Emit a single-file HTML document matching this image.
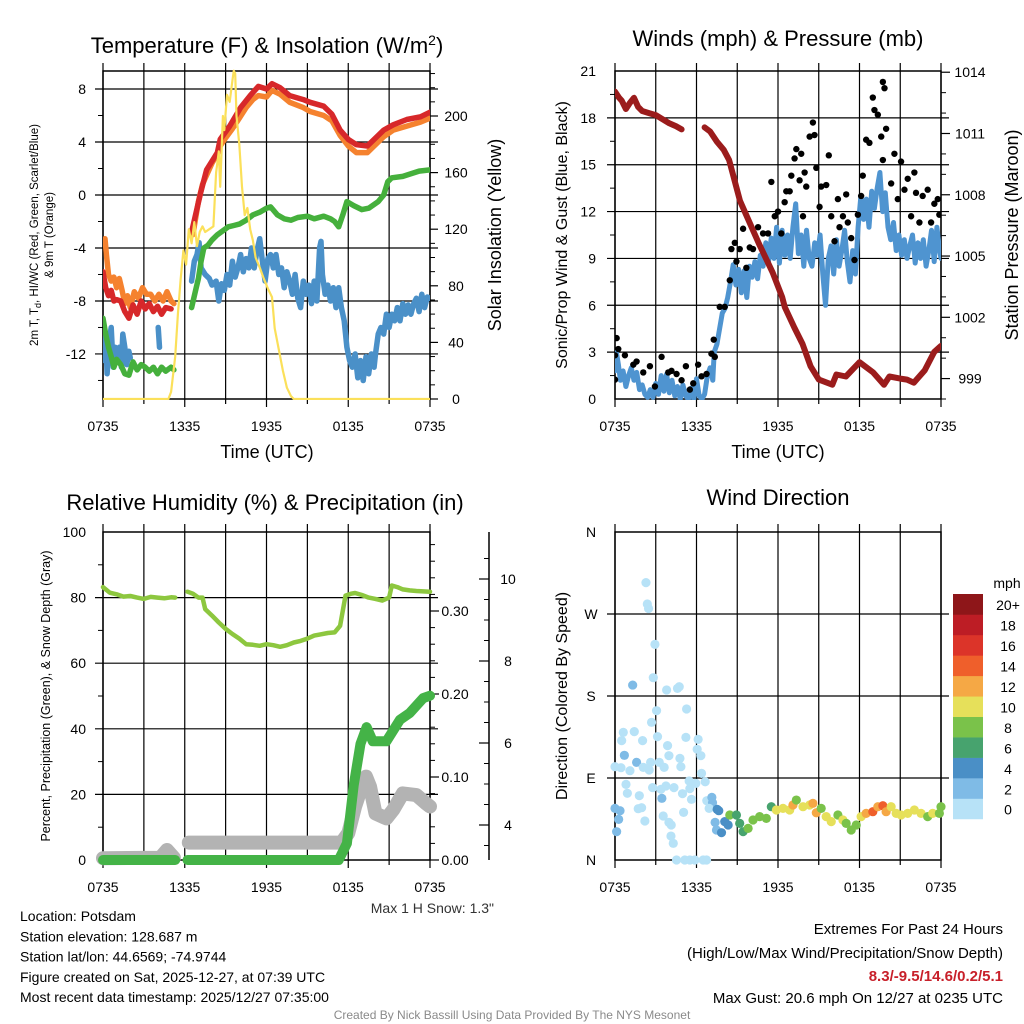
<!DOCTYPE html>
<html><head><meta charset="utf-8"><style>
html,body{margin:0;padding:0;background:#fff;}
svg{display:block;font-family:"Liberation Sans",sans-serif;}
</style></head><body>
<svg id="c" width="1024" height="1024" viewBox="0 0 1024 1024" xmlns="http://www.w3.org/2000/svg"></svg>
<script>
// ---------- Panel 1 data (hours since 0735 UTC) ----------
const tRedH=[0,0.2,0.4,0.6,0.8,1.0,1.3,1.6,1.9,2.2,2.5,2.8,3.1,3.4,3.7,4.0,4.3,4.6,5.0,5.2,6.5,7.15,7.6,8.4,8.6,9.3,10.1,10.8,11.4,12.0,12.4,13.0,13.7,14.7,15.2,16.2,16.8,17.4,18.0,18.6,19.4,20.1,20.6,21.3,22.3,23.3,24];
const tRedV=[-5.8,-7.0,-7.6,-7.2,-8.0,-7.9,-8.0,-8.8,-9.3,-8.3,-9.0,-8.0,-8.6,-8.2,-8.8,-8.4,-9.0,-8.5,-8.6,null,-2.8,0.1,1.9,3.2,4.2,5.2,6.6,7.5,8.2,8.0,8.4,8.1,7.5,7.2,7.0,6.7,6.1,4.9,4.2,3.8,3.7,4.4,4.9,5.3,5.7,5.9,6.25];
const tOrH=[0,0.15,0.25,0.4,0.6,0.8,1.0,1.2,1.4,1.6,1.8,2.0,2.3,2.6,2.9,3.2,3.5,3.8,4.1,4.4,4.7,5.0,5.2,5.3,6.6,7.0,7.3,7.6,8.0,8.4,8.6,9.0,9.5,10.0,10.5,11.0,11.4,12.0,12.4,13.0,13.7,14.7,15.2,16.2,16.8,17.4,18.0,18.6,19.4,20.1,20.6,21.3,22.3,23.3,24];
const tOrV=[-3.6,-3.3,-4.5,-6.0,-6.5,-6.2,-7.0,-6.3,-7.2,-8.2,-7.6,-8.5,-7.3,-7.8,-7.0,-7.5,-7.5,-8.0,-7.5,-8.0,-7.3,-8.0,-8.2,null,-3.0,-0.5,0.8,1.5,2.4,3.1,3.7,4.3,5.0,5.8,6.6,7.2,7.5,7.4,7.9,7.6,7.0,6.6,6.3,6.0,5.6,4.5,3.7,3.2,3.2,3.9,4.4,4.9,5.2,5.5,5.8];
const tdH=[0,0.2,0.4,0.6,0.8,1.0,1.3,1.6,1.9,2.2,2.5,2.8,3.1,3.4,3.7,4.0,4.3,4.6,5.0,5.2,5.3,6.5,6.8,7.0,7.2,7.4,7.7,8.0,8.4,8.8,9.2,9.6,10.0,10.5,11.0,11.5,12.0,12.3,12.8,13.3,13.8,14.3,15.0,15.5,16.2,16.7,17.0,17.3,17.6,17.9,18.4,19.0,19.5,20.2,20.6,20.9,21.2,22.0,22.6,23.2,24];
const tdV=[-9.3,-10.5,-11.5,-12.2,-13.0,-12.4,-12.8,-13.5,-13.6,-12.6,-13.2,-12.8,-13.0,-13.3,-13.0,-13.5,-13.0,-13.3,-13.0,-13.2,null,-8.5,-7.2,-6.3,-5.0,-4.0,-3.8,-3.4,-3.0,-2.7,-2.4,-2.3,-2.2,-1.9,-1.5,-1.3,-1.0,-0.9,-1.5,-1.8,-1.9,-1.7,-1.6,-1.8,-1.6,-1.8,-2.0,-2.4,-1.5,-0.5,-0.8,-1.1,-1.0,-0.5,0.0,1.0,1.3,1.4,1.6,1.8,1.9];
const wcH=[0,0.1,0.2,0.3,0.45,0.6,0.75,0.9,1.05,1.2,1.35,1.45,1.6,1.75,1.9,2.0,2.05,4.05,4.15,4.2,6.5,6.7,6.9,7.05,7.2,7.5,7.8,8.0,8.3,8.5,8.7,8.9,9.1,9.3,9.5,9.7,9.9,10.1,10.3,10.5,10.7,10.9,11.1,11.3,11.5,11.7,11.9,12.1,12.3,12.5,12.7,12.9,13.1,13.3,13.5,13.7,13.9,14.1,14.3,14.5,14.7,14.9,15.1,15.3,15.5,15.7,15.9,16.0,16.1,16.3,16.5,16.7,16.9,17.1,17.3,17.5,17.7,17.9,18.1,18.3,18.5,18.7,18.9,19.1,19.3,19.5,19.7,19.9,20.0,20.2,20.4,20.6,20.8,21.0,21.2,21.4,21.6,21.8,22.0,22.2,22.4,22.6,22.8,23.0,23.2,23.4,23.6,23.8,24];
const wcV=[-10.0,-12.5,-10.5,-13.5,-11.0,-10.0,-13.0,-11.5,-12.5,-11.5,-13.0,-10.5,-11.5,-12.8,-11.8,-12.3,null,-10.0,-11.5,null,-6.5,-5.0,-4.5,-3.6,-5.5,-6.0,-6.3,-6.8,-6.5,-8.0,-6.7,-7.2,-6.0,-6.8,-5.0,-6.2,-5.5,-4.5,-5.8,-4.8,-5.5,-4.0,-5.5,-4.2,-3.3,-5.0,-6.5,-4.8,-4.5,-5.5,-4.5,-6.0,-5.5,-7.0,-5.8,-6.5,-7.5,-6.0,-7.8,-8.5,-6.5,-7.5,-6.8,-8.2,-6.5,-8.0,-4.0,-3.5,-6.0,-7.5,-6.8,-8.0,-7.0,-8.5,-7.0,-8.5,-9.5,-11.5,-12.5,-13.0,-12.0,-13.8,-12.5,-14.0,-12.2,-13.5,-12.0,-13.0,-12.0,-10.5,-10.0,-10.5,-9.0,-10.0,-9.0,-9.5,-8.5,-9.5,-8.2,-9.0,-8.3,-9.0,-8.2,-7.8,-8.8,-7.5,-8.5,-7.7,-7.8];
const solH=[0,4.8,5.0,5.3,5.5,5.7,5.9,6.1,6.3,6.5,6.7,6.9,7.1,7.3,7.5,7.8,8.1,8.3,8.5,8.6,8.8,8.9,9.1,9.3,9.5,9.6,9.7,9.8,10.0,10.2,10.4,10.6,10.8,11.0,11.2,11.5,11.8,12.1,12.4,12.6,12.9,13.2,13.5,13.8,14.0,24];
const solV=[0,0,5,30,60,85,105,95,120,110,125,108,118,122,118,120,122,160,175,150,200,190,215,210,225,232,230,200,180,150,130,135,120,112,100,93,85,78,72,50,35,20,8,2,0,0];
// ---------- Panel 2 data ----------
const windH=[0,0.1,0.25,0.4,0.6,0.8,1.0,1.2,1.4,1.6,1.8,2.0,2.2,2.4,2.6,2.8,3.0,3.2,3.4,3.6,3.8,4.0,4.2,4.4,4.6,4.8,5.0,5.2,5.4,5.6,5.8,6.0,6.2,6.4,6.6,6.8,7.0,7.2,7.3,7.5,7.7,7.9,8.1,8.3,8.5,8.7,8.9,9.1,9.3,9.5,9.7,9.9,10.1,10.3,10.5,10.7,10.9,11.1,11.3,11.5,11.7,11.9,12.1,12.3,12.5,12.7,12.9,13.1,13.3,13.5,13.7,13.9,14.1,14.3,14.5,14.7,14.9,15.1,15.3,15.5,15.7,15.9,16.1,16.3,16.5,16.7,16.9,17.1,17.3,17.5,17.7,17.9,18.1,18.3,18.5,18.7,18.9,19.1,19.3,19.5,19.7,19.9,20.1,20.3,20.5,20.7,20.9,21.1,21.3,21.5,21.7,21.9,22.1,22.3,22.5,22.7,22.9,23.1,23.3,23.5,23.7,23.9,24];
const windV=[1.8,3.0,2.2,1.2,1.8,0.8,1.5,2.0,1.2,1.7,0.6,0.9,0.3,0.1,0.6,0.1,1.0,0.3,1.5,0.5,1.6,0.4,1.2,0.2,0.8,0.0,0.9,0.2,0.0,0.7,0.0,1.3,0.2,0.0,0.3,1.5,2.0,1.2,3.0,3.5,4.5,5.5,5.8,6.5,7.5,8.6,7.3,8.3,6.8,8.2,6.5,8.5,7.8,8.8,7.7,9.2,8.5,10.0,8.8,10.3,9.0,11.0,8.7,10.8,9.2,10.5,9.0,11.0,12.5,9.3,10.5,8.5,10.8,9.0,8.5,10.0,9.2,10.5,8.0,6.0,9.0,9.8,8.0,10.2,8.5,9.5,10.8,8.8,7.5,9.5,8.0,11.0,13.0,11.5,12.8,11.0,13.3,12.2,13.5,14.5,12.0,13.2,11.0,10.2,11.3,9.5,10.5,9.2,10.2,9.0,9.8,10.5,8.7,10.0,9.0,10.2,8.5,9.5,10.8,8.8,11.0,9.5,9.0];
const gustH=[0,0.12,0,0.24,0.73,1.35,1.59,2.08,2.57,2.94,3.43,3.92,4.16,4.53,4.9,5.22,5.51,5.76,6.12,6.37,6.74,7.1,7.35,7.27,7.71,8.08,8.45,8.57,8.82,8.94,9.18,9.43,9.67,9.92,10.16,10.53,10.9,11.27,11.51,11.76,12,12.24,12.49,12.61,12.86,12.98,13.22,13.35,13.59,13.71,13.84,13.96,14.08,14.33,14.57,14.69,14.82,15.06,15.18,15.55,15.74,15.92,16.16,16.41,16.53,16.78,17.02,17.14,17.39,17.63,17.88,18.12,18.24,18.49,18.73,18.98,19.1,19.35,19.72,19.84,19.96,19.6,19.72,20.33,20.57,20.82,21.06,21.31,21.55,21.8,22.04,22.16,22.41,22.65,23.02,23.27,23.51,23.76,23.88];
const gustV=[1.24,3.9,2.8,3.2,2.8,2.2,2.4,1.7,2.1,0.8,2.7,1.7,1.8,1.6,1.2,2.1,0.6,1.0,2.2,1.45,1.6,2.9,2.7,3.8,5.9,5.9,7.6,9.6,10,8.8,9.6,10.9,8.4,9.7,9.6,11.0,10.6,10.6,13.9,11.7,12,10.6,12.6,13.3,13.3,14.3,15.4,16,14,15.7,11.7,14.5,13.6,16.8,17.7,16.9,14.8,12.3,13.6,13.7,15.6,11.7,10.1,12.8,11,11.7,13.1,11.3,10.3,8.9,11.8,13,14.3,16.6,16.4,19.3,18.5,18.2,20.3,19.9,17.3,16.8,15.3,13.8,15.7,12.8,15.2,13.4,14.1,11.7,14.5,13.2,11.3,13,13.4,11.3,12.5,12.8,11.8];
const presH=[0,0.3,0.5,0.8,1.1,1.4,1.7,2.0,2.5,3.0,3.5,4.0,4.5,4.9,5.0,6.6,7.0,7.5,8.0,8.4,9.2,9.6,10.6,11.6,12.3,12.5,13.2,13.8,14.4,15.0,16.0,16.3,17.0,18.0,19.0,19.8,20.2,21.0,21.5,22.0,22.8,23.5,24];
const presV=[1013.05,1012.75,1012.6,1012.2,1012.5,1012.75,1012.3,1012.1,1012.0,1011.9,1011.7,1011.5,1011.35,1011.2,null,1011.3,1011.1,1010.6,1010.2,1009.7,1007.7,1007.1,1005.6,1004.2,1003.0,1002.5,1001.5,1000.7,999.6,998.95,998.7,999.2,999.1,999.8,999.3,998.7,999.1,999.0,998.95,998.8,999.4,1000.3,1000.6];
// ---------- Panel 3 data ----------
const rhH=[0,0.5,1,1.5,2,2.5,3,3.5,4,4.5,5,5.3,5.4,6.2,6.6,7.0,7.3,7.5,8.0,8.5,9.0,9.5,10,10.5,11,11.5,12,12.5,13,13.5,14,14.5,15,15.5,16,16.5,17,17.4,17.8,18.2,18.5,19,19.5,20,20.5,21,21.2,21.6,22,22.5,23,23.5,24];
const rhV=[83.2,81.5,81,80.3,80.5,80,79.6,80.2,80,79.8,80.1,80,null,81.8,81.2,80,80,76.5,74.5,72.4,70.5,68.9,67.5,65.8,65.6,65.3,65.8,65.5,65,65.5,66.3,66.8,67.5,68.4,68.8,69.2,69.4,71.4,80.6,81.2,81.4,80.8,80,79.6,79.1,80,83.7,83.2,82.5,82.2,82,81.9,81.8];
const pcpH=[0,5.3,5.35,6.2,17.3,17.9,18.4,18.9,19.35,19.8,20.8,21.8,22.5,23.5,24];
const pcpV=[0,0,null,0,0,0.02,0.09,0.14,0.16,0.143,0.143,0.169,0.177,0.195,0.198];
const snowH=[0,4.2,4.7,5.2,5.3,6.3,17.5,18.0,18.5,19.0,19.3,19.6,20.0,20.8,21.3,22.0,23.0,23.7,24];
const snowV=[3.19,3.2,3.39,3.2,null,3.57,3.57,3.8,4.45,4.95,5.18,4.93,4.28,4.16,4.37,4.77,4.73,4.53,4.45];
// ---------- Panel 4 data ----------
const dirH=[2.28,2.38,2.47,2.94,2.82,1.30,3.80,4.60,4.73,5.27,3.06,2.69,0.61,1.42,0.49,2.03,3.13,5.22,6.12,3.87,6.05,6.32,3.97,4.78,0.69,1.59,2.62,3.26,0.0,0.44,1.10,2.08,2.52,3.62,4.85,6.37,5.46,5.95,6.64,0.81,3.75,2.77,4.34,3.38,5.51,0.91,1.79,4.97,5.63,6.76,7.13,7.18,3.45,0.0,0.37,1.96,1.71,6.93,7.52,7.64,5.05,3.55,0.27,2.20,3.97,4.14,7.37,8.08,8.33,0.12,7.47,7.84,4.12,4.29,4.53,5.14,5.51,5.88,6.49,6.74,
8.45,8.94,9.18,9.43,9.80,10.16,10.65,11.14,11.51,11.88,12.37,12.86,13.10,13.35,13.84,14.33,14.57,14.82,15.18,15.55,15.92,16.41,16.78,17.02,17.39,17.76,18.12,18.49,18.98,19.35,19.72,19.96,20.33,20.70,21.06,21.55,22.04,22.53,23.02,23.39,23.88,24.0];
const dirV=[304.4,281,276,236.7,200.1,192,186.6,188.4,190.2,165.7,163.9,151.1,140.1,140.9,131,131,135.4,134.6,132.4,125.5,121.5,114.5,114.5,111.6,114.9,107.2,107.2,107.2,102.4,101.3,98,101.7,98.8,101.7,102.4,95.1,86.7,84.1,85.9,83,81.2,79.4,79.4,77.6,78.3,73.2,70.6,72.8,66.6,65.1,68.8,62.9,67.7,56.7,54.1,57.4,56.3,56.7,55.6,54.1,52.3,48.3,44.6,42.8,41.3,38.4,41.3,42.1,38.4,31.1,32.9,30,26.3,18.3,0,0,0,0,0,0,
49.4,49.4,40.2,31.1,34.7,43.9,47.6,45.7,58.5,54.9,56.7,54.9,60.4,65.8,58.5,60.4,62.2,51.9,56.7,47.6,42.1,49.4,43.9,40.2,32.9,38.4,47.6,51.2,53,58.5,59.6,53,58.5,51.2,49.4,51.2,54.9,51.2,47.6,51.2,51.2,58.5];
const dirS=[1,1,1,1,1,3,1,1,1,1,1,1,1,1,1,1,1,1,1,1,1,1,1,1,3,3,1,1,1,1,1,1,1,1,1,1,1,1,1,1,1,1,1,1,1,1,1,1,1,1,3,3,3,3,3,1,1,1,4.5,4.5,1,1,3,1,1,1,3,4.5,4.5,3,3,4.5,1,1,1,1,1,1,1,1,
8.5,7,6,7.5,8,8,8,8.5,7,10.5,10,10.5,12.5,8.5,10.5,11,12.5,12.5,8.5,10.5,10.5,8.5,10.5,8.5,8.5,8.5,10.5,12.5,14.5,12.5,14.5,12.5,10.5,10.5,10.5,10.5,10.5,10.5,8.5,10.5,8.5,8.5];
const cbarLabels=["0","2","4","6","8","10","12","14","16","18","20+"];
const cbarColors=["#b7e2f7","#7fbbe6","#4a8fc6","#47a36e","#7ac24a","#e6e05a","#f5a845","#ef5f2b","#dc3429","#bd1d25","#8e1619"];

const NS="http://www.w3.org/2000/svg";
const svg=document.getElementById('c');
function el(tag,attrs,parent){const e=document.createElementNS(NS,tag);for(const k in attrs)e.setAttribute(k,attrs[k]);(parent||svg).appendChild(e);return e;}
function txt(s,x,y,size,anchor,parent,extra){const t=el('text',Object.assign({x:x,y:y,'font-size':size,'text-anchor':anchor||'middle',fill:'#000'},extra||{}),parent);t.textContent=s;return t;}
function lin(a,b,c,d){return (v)=>c+(v-a)*(d-c)/(b-a);}
function pathD(H,V,sx,sy){let d='',pen=false;for(let i=0;i<H.length;i++){if(V[i]===null){pen=false;continue;}d+=(pen?'L':'M')+sx(H[i]).toFixed(1)+','+sy(V[i]).toFixed(1);pen=true;}return d;}
function grid(g,x0,x1,y0,y1,ys){
  for(let k=0;k<=8;k++){const x=x0+(x1-x0)*k/8;el('line',{x1:x,y1:y0-8,x2:x,y2:y1+(k%2==0?8:5),stroke:'#000','stroke-width':1.2},g);}
  ys.forEach(y=>el('line',{x1:x0-8,y1:y,x2:x1+8,y2:y,stroke:'#000','stroke-width':1.2},g));
  el('rect',{x:x0,y:y0,width:x1-x0,height:y1-y0,fill:'none',stroke:'#000','stroke-width':1.5},g);
  ['0735','1335','1935','0135','0735'].forEach((s,k)=>txt(s,x0+(x1-x0)*k/4,y1+32,14,'middle',g));
}
function minorTicks(g,x,ys,dir){ys.forEach(y=>el('line',{x1:x,y1:y,x2:x+dir*5,y2:y,stroke:'#000','stroke-width':1},g));}

// ================= Panel 1 =================
(function(){
const g=el('g',{});
const x0=103,x1=430,y0=71,y1=399;
const sx=lin(0,24,x0,x1), sy=lin(-15.4,9.36,y1,y0), ss=lin(0,200,399,116);
const ys=[8,4,0,-4,-8,-12].map(sy);
const yMinor=[];for(let v=-14;v<=8;v+=2)if(v%4!==0)yMinor.push(sy(v));
grid(g,x0,x1,y0,y1,ys);minorTicks(g,x0,yMinor,-1);
const rmin=[];for(let v=0;v<=230;v+=10)if(v%40!==0)rmin.push(ss(v));minorTicks(g,x1,rmin,1);
[0,40,80,120,160,200].forEach(v=>{el('line',{x1:x1,y1:ss(v),x2:x1+8,y2:ss(v),stroke:'#000','stroke-width':1.2},g);const t=txt(String(v),456,ss(v)+5,14,'middle',g);});
[8,4,0,-4,-8,-12].forEach(v=>{const t=txt(String(v),86,sy(v)+5,14,'end',g);});
const clip=el('clipPath',{id:'cp1'},g);el('rect',{x:x0,y:y0-3,width:x1-x0,height:y1-y0+4},clip);
const lg=el('g',{'clip-path':'url(#cp1)'},g);
const s1=el('path',{d:pathD(wcH,wcV,sx,sy),fill:'none',stroke:'#4a90c8','stroke-width':5.5,'stroke-linejoin':'round','stroke-linecap':'round'},lg);

const s2=el('path',{d:pathD(tdH,tdV,sx,sy),fill:'none',stroke:'#45b03c','stroke-width':5.5,'stroke-linejoin':'round','stroke-linecap':'round'},lg);

const s3=el('path',{d:pathD(tOrH,tOrV,sx,sy),fill:'none',stroke:'#f5822f','stroke-width':5.5,'stroke-linejoin':'round','stroke-linecap':'round'},lg);

const s4=el('path',{d:pathD(tRedH,tRedV,sx,sy),fill:'none',stroke:'#d7282a','stroke-width':5.5,'stroke-linejoin':'round','stroke-linecap':'round'},lg);

const s5=el('path',{d:pathD(solH,solV,sx,ss),fill:'none',stroke:'#fbe05a','stroke-width':2.2,'stroke-linejoin':'round'},lg);

const tt=txt('',267,53,22,'middle',g);tt.innerHTML='Temperature (F) &amp; Insolation (W/m<tspan dy="-8" font-size="14">2</tspan><tspan dy="8">)</tspan>';

const xt=txt('Time (UTC)',267,458,18,'middle',g);
const yt=el('text',{transform:'translate(38,235) rotate(-90)','font-size':11.5,'text-anchor':'middle'},g);
yt.innerHTML='<tspan x="0" dy="0">2m T, T<tspan font-size="9" dy="3">d</tspan><tspan dy="-3">, HI/WC (Red, Green, Scarlet/Blue)</tspan></tspan><tspan x="0" dy="15">&amp; 9m T (Orange)</tspan>';

const rt=el('text',{transform:'translate(501,235) rotate(-90)','font-size':18,'text-anchor':'middle'},g);rt.textContent='Solar Insolation (Yellow)';

})();

// ================= Panel 2 =================
(function(){
const g=el('g',{});
const x0=615,x1=941,y0=71,y1=399;
const sx=lin(0,24,x0,x1), sy=lin(0,21,y1,y0), sp=lin(998.0,1014.06,y1,y0);
const ys=[3,6,9,12,15,18].map(sy);
grid(g,x0,x1,y0,y1,ys);
const ym=[];for(let v=1.5;v<21;v+=3)ym.push(sy(v));minorTicks(g,x0,ym,-1);
const pm=[];for(let v=998;v<=1014;v++)if((v-999)%3!==0)pm.push(sp(v));minorTicks(g,x1,pm,1);
[999,1002,1005,1008,1011,1014].forEach(v=>{el('line',{x1:x1,y1:sp(v),x2:x1+9,y2:sp(v),stroke:'#000','stroke-width':1.2},g);const t=txt(String(v),970,sp(v)+5,14,'middle',g);});
[0,3,6,9,12,15,18,21].forEach(v=>{const t=txt(String(v),596,sy(v)+5,14,'end',g);});
const clip=el('clipPath',{id:'cp2'},g);el('rect',{x:x0,y:y0-5,width:x1-x0,height:y1-y0+6},clip);
const lg=el('g',{'clip-path':'url(#cp2)'},g);
const w=el('path',{d:pathD(windH,windV,sx,sy),fill:'none',stroke:'#4f94d0','stroke-width':5,'stroke-linejoin':'round','stroke-linecap':'round'},lg);

for(let i=0;i<gustH.length;i++){const c=el('circle',{cx:sx(gustH[i]),cy:sy(gustV[i]),r:3.2,fill:'#000'},lg);
}
const p=el('path',{d:pathD(presH,presV,sx,sp),fill:'none',stroke:'#9b1c1c','stroke-width':6,'stroke-linejoin':'round','stroke-linecap':'round'},lg);

const tt=txt('Winds (mph) & Pressure (mb)',778,46,22,'middle',g);
const xt=txt('Time (UTC)',778,458,18,'middle',g);
const yt=el('text',{transform:'translate(567,235) rotate(-90)','font-size':16,'text-anchor':'middle'},g);yt.textContent='Sonic/Prop Wind & Gust (Blue, Black)';

const rt=el('text',{transform:'translate(1018,235) rotate(-90)','font-size':18,'text-anchor':'middle'},g);rt.textContent='Station Pressure (Maroon)';

})();

// ================= Panel 3 =================
(function(){
const g=el('g',{});
const x0=103,x1=430,y0=532,y1=860;
const sx=lin(0,24,x0,x1), sy=lin(0,100,y1,y0), sr=lin(0,0.1,860,777), sn=lin(4,10,825,579);
grid(g,x0,x1,y0,y1,[20,40,60,80].map(sy));
const ym=[];for(let v=10;v<100;v+=20)ym.push(sy(v));minorTicks(g,x0,ym,-1);
const rm=[];for(let v=0.02;v<0.39;v+=0.02)if(Math.round(v*100)%10!==0)rm.push(sr(v));minorTicks(g,x1,rm,1);
[0,0.1,0.2,0.3].forEach(v=>{el('line',{x1:x1,y1:sr(v),x2:x1+9,y2:sr(v),stroke:'#000','stroke-width':1.2},g);const t=txt(v.toFixed(2),455,sr(v)+5,14,'middle',g);});
el('line',{x1:489,y1:532,x2:489,y2:860,stroke:'#000','stroke-width':1.5},g);
const sm=[];for(let v=3.5;v<11;v+=0.5)if(v%2!==0)sm.push(sn(v));minorTicks(g,489,sm,-1);
[4,6,8,10].forEach(v=>{el('line',{x1:489,y1:sn(v),x2:479,y2:sn(v),stroke:'#000','stroke-width':1.2},g);const t=txt(String(v),508,sn(v)+5,14,'middle',g);});
[0,20,40,60,80,100].forEach(v=>{const t=txt(String(v),86,sy(v)+5,14,'end',g);});
const sn1=el('path',{d:pathD(snowH,snowV,sx,sn),fill:'none',stroke:'#b3b3b3','stroke-width':14,'stroke-linejoin':'round','stroke-linecap':'round'},g);

const pc=el('path',{d:pathD(pcpH,pcpV,sx,sr),fill:'none',stroke:'#44b347','stroke-width':10,'stroke-linejoin':'round','stroke-linecap':'round'},g);

const rh=el('path',{d:pathD(rhH,rhV,sx,sy),fill:'none',stroke:'#8dc73f','stroke-width':4.5,'stroke-linejoin':'round','stroke-linecap':'round'},g);

const tt=txt('Relative Humidity (%) & Precipitation (in)',265,510,22,'middle',g);
const yt=el('text',{transform:'translate(50,696) rotate(-90)','font-size':12.5,'text-anchor':'middle'},g);yt.textContent='Percent, Precipitation (Green), & Snow Depth (Gray)';

const ms=txt('Max 1 H Snow: 1.3"',494,913,14,'end',g,{fill:'#333'});
})();

// ================= Panel 4 =================
(function(){
const g=el('g',{});
const x0=615,x1=941,y0=532,y1=860;
const sx=lin(0,24,x0,x1), sy=lin(0,360,y1,y0);
grid(g,x0,x1,y0,y1,[90,180,270].map(sy));
['N','E','S','W','N'].forEach((s,k)=>{const t=txt(s,591,sy(k*90)+5,14,'middle',g);});
function col(s){let k=Math.floor(s/2);if(k>10)k=10;return cbarColors[k];}
for(let i=0;i<dirH.length;i++){const c=el('circle',{cx:sx(dirH[i]),cy:sy(dirV[i]),r:4.6,fill:col(dirS[i])},g);
}
const cb=el('g',{},g);
const top=594,hh=20.45;
for(let k=0;k<11;k++){const y=top+(10-k)*hh;el('rect',{x:953,y:y,width:30,height:hh+0.3,fill:cbarColors[k]},cb);
const t=txt(cbarLabels[k],1008,y+hh/2+6,14,'middle',cb);}
txt('mph',1007,588,14,'middle',cb);
const tt=txt('Wind Direction',778,505,22,'middle',g);
const yt=el('text',{transform:'translate(567,696) rotate(-90)','font-size':16,'text-anchor':'middle'},g);yt.textContent='Direction (Colored By Speed)';

})();

// ================= Footer =================
(function(){
const g=el('g',{});
['Location: Potsdam','Station elevation: 128.687 m','Station lat/lon: 44.6569; -74.9744','Figure created on Sat, 2025-12-27, at 07:39 UTC','Most recent data timestamp: 2025/12/27 07:35:00'].forEach((s,i)=>txt(s,20,921+i*20.3,14,'start',g));
const r=el('g',{});
txt('Extremes For Past 24 Hours',1003,934,15,'end',r);
txt('(High/Low/Max Wind/Precipitation/Snow Depth)',1003,958,15,'end',r);
txt('8.3/-9.5/14.6/0.2/5.1',1003,981,15,'end',r,{fill:'#c8202a','font-weight':'bold'});
txt('Max Gust: 20.6 mph On 12/27 at 0235 UTC',1003,1003,15,'end',r);
const c=txt('Created By Nick Bassill Using Data Provided By The NYS Mesonet',512,1019,12,'middle',svg,{fill:'#8a8a8a'});

})();
</script>
</body></html>
